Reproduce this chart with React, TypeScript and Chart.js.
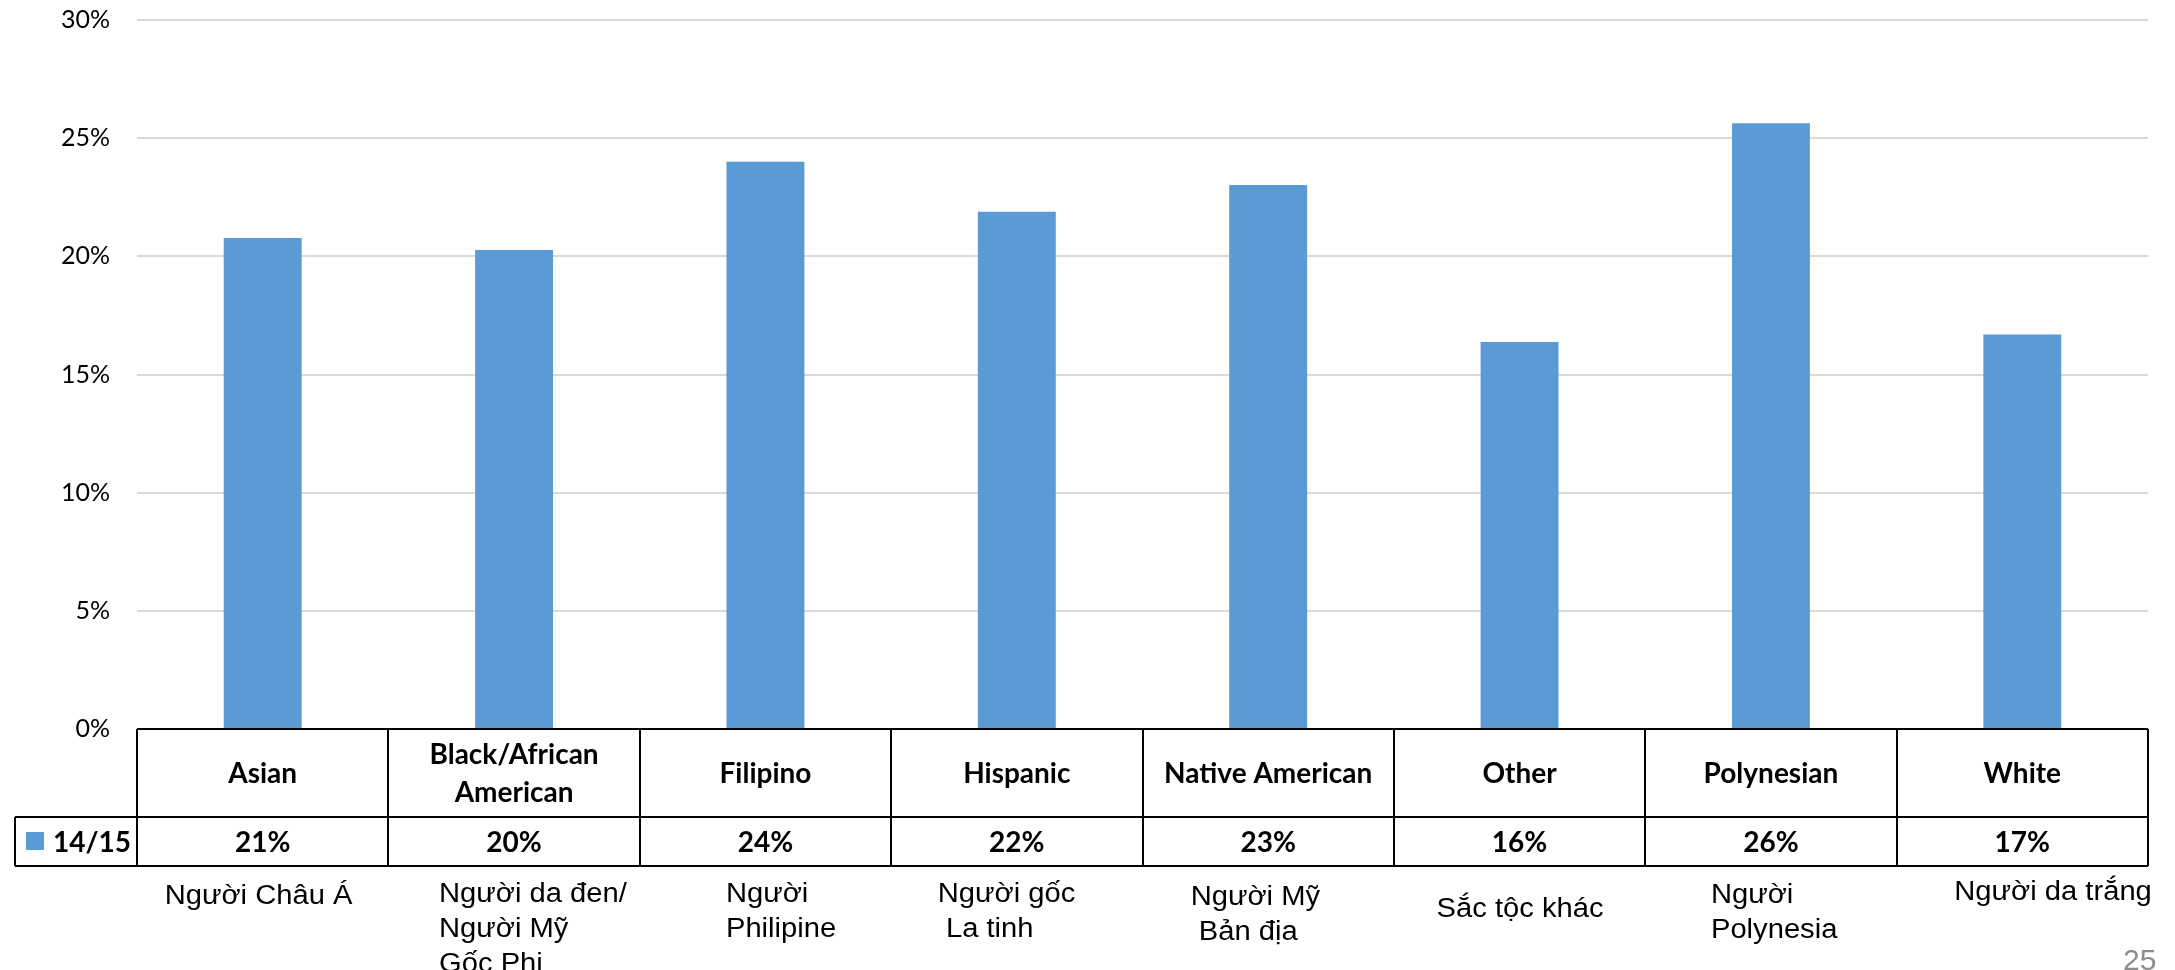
import React, { useEffect, useRef } from 'react';
import { Chart, registerables } from 'chart.js';

Chart.register(...registerables);

// ---- data ----
const categories: string[][] = [
  ['Asian'],
  ['Black/African', 'American'],
  ['Filipino'],
  ['Hispanic'],
  ['Native American'],
  ['Other'],
  ['Polynesian'],
  ['White'],
];

const seriesName = '14/15';

const values: number[] = [20.78, 20.27, 24.0, 21.89, 23.02, 16.38, 25.63, 16.69];

const yTicks: number[] = [0, 5, 10, 15, 20, 25, 30];

const vnLabels: string[][] = [
  ['Người Châu Á'],
  ['Người da đen/', 'Người Mỹ', 'Gốc Phi'],
  ['Người', 'Philipine'],
  ['Người gốc', ' La tinh'],
  ['Người Mỹ', ' Bản địa'],
  ['Sắc tộc khác'],
  ['Người', 'Polynesia'],
  ['Người da trắng'],
];

const pageNumber = '25';

// ---- styling / layout ----
const BAR_COLOR = '#5b9bd5';
const GRID_COLOR = '#d9d9d9';
const TABLE_FONT = 'Lato, "Open Sans", sans-serif';
const VN_FONT = '"Liberation Sans", Arial, sans-serif';

const HEADER_H = 88;
const ROW_H = 49;
const LEGEND_LEFT = 15;
const TABLE_FONT_SIZE = 28;
const CAP_HALF = 10;

const VN_FONT_SIZE = 27;
const VN_STRETCH = 1.08;
const VN_LINE_H = 35;
// offset of each Vietnamese caption from its column centre, and first baseline
const vnLayout: { dx: number; y: number }[] = [
  { dx: -98, y: 904 },
  { dx: -75, y: 902 },
  { dx: -39.5, y: 902 },
  { dx: -79, y: 902 },
  { dx: -77.5, y: 905 },
  { dx: -83, y: 917 },
  { dx: -60, y: 903 },
  { dx: -68, y: 900 },
];

const formatPct = (v: number) => `${Math.round(v)}%`;

const tablePlugin = {
  id: 'dataTable',
  afterDraw(chart: any) {
    const { ctx, chartArea } = chart;
    const xScale = chart.scales.x;
    const left = chartArea.left;
    const right = chartArea.right;
    const top = Math.round(chartArea.bottom);
    const colW = (right - left) / categories.length;
    const rowTop = top + HEADER_H;
    const bottom = rowTop + ROW_H;

    ctx.save();

    // grid of the data table
    ctx.strokeStyle = '#000';
    ctx.lineWidth = 2;
    ctx.beginPath();
    ctx.moveTo(left, top);
    ctx.lineTo(right, top);
    ctx.moveTo(LEGEND_LEFT, rowTop);
    ctx.lineTo(right, rowTop);
    ctx.moveTo(LEGEND_LEFT, bottom);
    ctx.lineTo(right, bottom);
    ctx.moveTo(LEGEND_LEFT, rowTop);
    ctx.lineTo(LEGEND_LEFT, bottom);
    for (let i = 0; i <= categories.length; i++) {
      const cx = Math.round(left + i * colW);
      ctx.moveTo(cx, top);
      ctx.lineTo(cx, bottom);
    }
    ctx.stroke();

    // header and value cells
    ctx.fillStyle = '#000';
    ctx.font = `bold ${TABLE_FONT_SIZE}px ${TABLE_FONT}`;
    ctx.textAlign = 'center';
    ctx.textBaseline = 'alphabetic';
    const headMid = top + HEADER_H / 2;
    const valMid = rowTop + ROW_H / 2;
    categories.forEach((lines, i) => {
      const cx = xScale.getPixelForValue(i);
      const lh = 38;
      const start = headMid - ((lines.length - 1) * lh) / 2;
      lines.forEach((ln, j) => {
        ctx.fillText(ln, cx, start + j * lh + CAP_HALF);
      });
      ctx.fillText(formatPct(values[i]), cx, valMid + CAP_HALF);
    });

    // legend key
    ctx.fillStyle = BAR_COLOR;
    ctx.fillRect(LEGEND_LEFT + 11, rowTop + 15, 18, 18);
    ctx.fillStyle = '#000';
    ctx.textAlign = 'left';
    ctx.fillText(seriesName, LEGEND_LEFT + 38, valMid + CAP_HALF);

    // Vietnamese captions
    ctx.font = `${VN_FONT_SIZE}px ${VN_FONT}`;
    ctx.textAlign = 'left';
    vnLabels.forEach((lines, i) => {
      const cx = xScale.getPixelForValue(i);
      const lay = vnLayout[i];
      lines.forEach((ln, j) => {
        ctx.save();
        ctx.translate(cx + lay.dx, lay.y + j * VN_LINE_H);
        ctx.scale(VN_STRETCH, 1);
        ctx.fillText(ln, 0, 0);
        ctx.restore();
      });
    });

    // page number
    ctx.fillStyle = '#8c8c8c';
    ctx.font = `30px ${VN_FONT}`;
    ctx.textAlign = 'left';
    ctx.fillText(pageNumber, 2123, 970);

    ctx.restore();
  },
};

export default function App() {
  const canvasRef = useRef<HTMLCanvasElement | null>(null);

  useEffect(() => {
    const canvas = canvasRef.current;
    if (!canvas) return;
    const chart = new Chart(canvas, {
      type: 'bar',
      data: {
        labels: categories.map((c) => c.join(' ')),
        datasets: [
          {
            label: seriesName,
            data: values,
            backgroundColor: BAR_COLOR,
            borderWidth: 0,
            barPercentage: 0.31,
            categoryPercentage: 1.0,
          },
        ],
      },
      options: {
        responsive: false,
        animation: false,
        devicePixelRatio: 1,
        layout: { padding: { left: 0, right: 27, top: 20, bottom: 241 } },
        plugins: {
          legend: { display: false },
          tooltip: { enabled: false },
        },
        scales: {
          x: { display: false },
          y: {
            min: 0,
            max: 30,
            afterFit: (s: any) => {
              s.width = 137;
              s.paddingTop = 0;
              s.paddingBottom = 0;
            },
            afterBuildTicks: (s: any) => {
              s.ticks = yTicks.map((v) => ({ value: v }));
            },
            ticks: {
              callback: (v: any) => `${v}%`,
              font: { family: TABLE_FONT, size: 25 },
              color: '#000',
              padding: 27,
            },
            grid: { color: GRID_COLOR, lineWidth: 2, drawTicks: false },
            border: { display: false },
          },
        },
      },
      plugins: [tablePlugin],
    });
    return () => chart.destroy();
  }, []);

  return (
    <div style={{ position: 'fixed', left: 0, top: 0, width: 2175, height: 970, background: '#fff' }}>
      <canvas ref={canvasRef} width={2175} height={970} style={{ display: 'block' }} />
    </div>
  );
}
